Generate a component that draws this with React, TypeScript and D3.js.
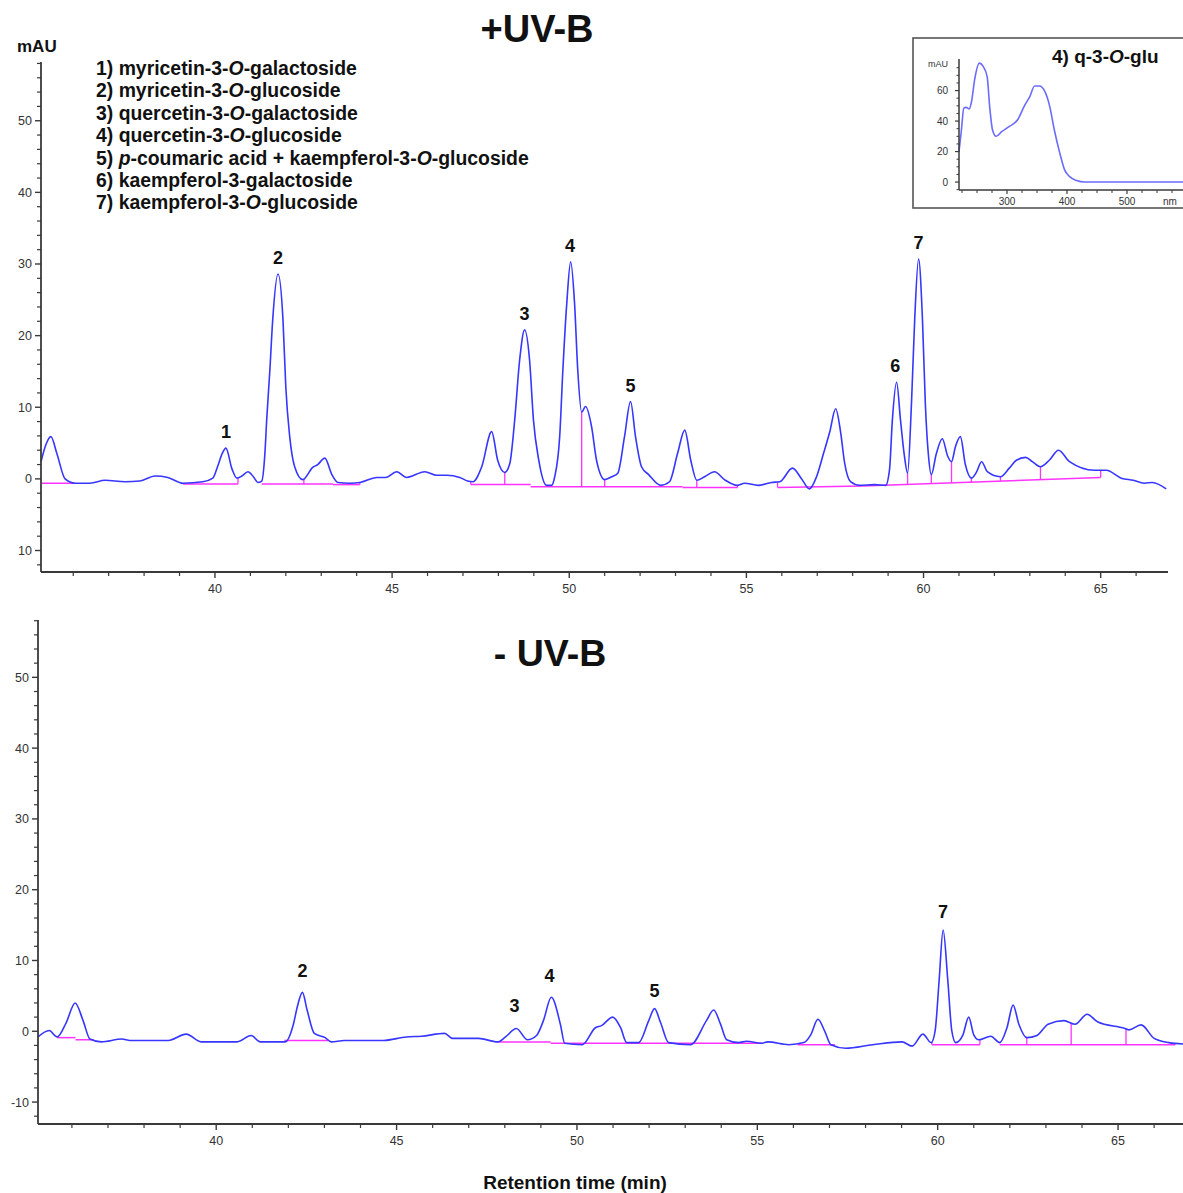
import React from "react";
import * as d3 from "d3";

// ---------- data ----------
const topTrace: [number, number][] = [
  [35.09, 2.4], [35.23, 4.8], [35.37, 5.9], [35.54, 3.5], [35.77, 0.0], [36.05, -0.6], [36.47, -0.6],
  [36.9, -0.2], [37.46, -0.4], [37.88, -0.3], [38.31, 0.4], [38.67, 0.2], [39.1, -0.6], [39.66, -0.4],
  [39.94, 0.1], [40.08, 1.8], [40.2, 3.5], [40.31, 4.3], [40.48, 1.4], [40.62, 0.1], [40.76, 0.4],
  [40.93, 1.0], [41.1, 0.2], [41.21, -0.5], [41.32, -0.3], [41.41, 3.6], [41.46, 8.2], [41.55, 15.2],
  [41.63, 22.2], [41.78, 28.6], [41.92, 22.2], [42.0, 12.8], [42.11, 5.9], [42.25, 1.7], [42.48, -0.1],
  [42.76, 1.6], [42.9, 2.0], [43.1, 2.9], [43.3, 0.6], [43.47, -0.5], [43.81, -0.6], [44.09, -0.5],
  [44.57, 0.2], [44.82, 0.2], [45.13, 1.0], [45.41, 0.2], [45.92, 1.0], [46.26, 0.5], [46.54, 0.5],
  [46.91, 0.2], [47.13, -0.3], [47.28, -0.4], [47.53, 1.7], [47.81, 6.6], [47.98, 2.6], [48.18, 0.9],
  [48.32, 2.1], [48.46, 8.2], [48.6, 16.6], [48.74, 20.8], [48.88, 16.6], [48.99, 8.2], [49.14, 2.6],
  [49.36, -0.9], [49.5, -0.9], [49.59, 0.3], [49.73, 5.9], [49.82, 15.2], [49.93, 24.5], [50.04, 30.3],
  [50.15, 24.5], [50.24, 15.2], [50.35, 9.3], [50.46, 10.1], [50.63, 7.3], [50.77, 2.6], [51.0, -0.1],
  [51.2, 0.3], [51.37, 0.8], [51.56, 5.9], [51.73, 10.8], [51.87, 5.9], [52.04, 1.7], [52.24, 0.6],
  [52.58, -0.9], [52.83, -0.4], [53.06, 3.6], [53.26, 6.8], [53.43, 2.6], [53.6, -0.2], [53.82, 0.3],
  [54.1, 1.0], [54.38, -0.1], [54.75, -0.9], [54.95, -0.6], [55.34, -0.9], [55.71, -0.5], [55.94, -0.4],
  [56.3, 1.5], [56.56, 0.0], [56.78, -1.4], [56.98, 0.3], [57.18, 3.6], [57.35, 6.5], [57.52, 9.8],
  [57.66, 6.5], [57.77, 2.3], [57.94, -0.4], [58.19, -0.9], [58.62, -0.8], [58.93, -0.9], [59.04, 1.3],
  [59.12, 8.2], [59.24, 13.5], [59.35, 8.2], [59.46, 3.2], [59.55, 0.8], [59.66, 10.6], [59.75, 22.2],
  [59.86, 30.7], [59.97, 22.2], [60.05, 10.6], [60.14, 3.2], [60.22, 0.6], [60.36, 3.5], [60.53, 5.6],
  [60.68, 3.2], [60.79, 2.4], [60.9, 4.5], [61.04, 5.9], [61.18, 2.0], [61.35, 0.1], [61.49, 0.9],
  [61.64, 2.4], [61.8, 1.0], [62.17, 0.3], [62.42, 1.5], [62.62, 2.6], [62.88, 3.0], [63.07, 2.4],
  [63.3, 1.7], [63.55, 2.6], [63.81, 4.0], [64.12, 2.4], [64.82, 1.2], [65.16, 1.2], [65.58, 0.1],
  [65.92, -0.2], [66.23, -0.6], [66.46, -0.5], [66.85, -1.4],
];

const bottomTrace: [number, number][] = [
  [35.06, -0.8], [35.37, 0.1], [35.59, -0.8], [35.84, 1.2], [36.09, 4.0], [36.31, 1.5], [36.5, -1.1],
  [36.81, -1.5], [37.39, -1.1], [37.61, -1.3], [38.67, -1.3], [39.17, -0.4], [39.58, -1.5], [40.58, -1.5],
  [40.97, -0.6], [41.22, -1.5], [41.91, -1.5], [42.14, 1.0], [42.25, 3.5], [42.39, 5.5], [42.52, 3.0],
  [42.72, -0.3], [43.02, -0.9], [43.19, -1.5], [43.55, -1.3], [44.63, -1.3], [45.27, -0.8], [45.69, -0.7],
  [46.33, -0.3], [46.55, -1.0], [47.27, -1.0], [47.8, -1.5], [48.02, -0.8], [48.32, 0.4], [48.63, -1.2],
  [48.88, -0.6], [49.07, 1.5], [49.29, 4.8], [49.54, 1.0], [49.66, -1.7], [50.15, -1.9], [50.51, 0.5],
  [50.68, 0.8], [50.99, 2.0], [51.21, 0.5], [51.38, -1.6], [51.71, -1.6], [51.99, 1.5], [52.15, 3.2],
  [52.32, 1.2], [52.54, -1.6], [53.15, -1.9], [53.59, 1.5], [53.79, 3.0], [53.98, 1.0], [54.15, -1.2],
  [54.48, -1.6], [54.7, -1.4], [55.12, -1.7], [55.29, -1.5], [55.87, -1.9], [56.29, -1.6], [56.48, -0.5],
  [56.68, 1.7], [56.87, 0.0], [57.04, -1.9], [57.45, -2.4], [58.2, -1.9], [59.01, -1.5], [59.29, -2.1],
  [59.59, -0.4], [59.82, -1.6], [59.93, 0.1], [60.04, 7.2], [60.15, 14.3], [60.28, 7.2], [60.39, 0.1],
  [60.5, -1.6], [60.7, -0.5], [60.86, 2.0], [61.0, -0.5], [61.14, -1.2], [61.47, -0.7], [61.72, -1.6],
  [61.92, 0.5], [62.09, 3.7], [62.25, 1.0], [62.47, -0.9], [62.75, -0.6], [63.06, 1.0], [63.5, 1.5],
  [63.81, 1.0], [64.14, 2.4], [64.44, 1.3], [65.19, 0.4], [65.3, 0.2], [65.64, 0.9], [66.0, -1.0],
  [66.41, -1.6], [66.83, -1.8],
];

// baseline segments [t1, v1, t2, v2]
const topBaselines: number[][] = [
  [35.09, -0.6, 36.05, -0.6], [39.1, -0.7, 40.65, -0.7], [41.32, -0.7, 43.33, -0.7],
  [43.33, -0.8, 44.09, -0.8], [47.22, -0.8, 48.91, -0.8], [48.91, -1.1, 53.2, -1.1],
  [53.2, -1.2, 54.75, -1.2], [55.88, -1.2, 58.28, -1.0], [58.28, -1.0, 65.0, 0.2],
];
// drop lines [t, vBase, vTop]
const topDrops: number[][] = [
  [40.65, -0.7, 0.1], [42.51, -0.7, 0.0], [44.09, -0.8, -0.5], [47.22, -0.8, -0.4], [48.18, -0.8, 0.9],
  [50.35, -1.1, 9.3], [51.0, -1.1, -0.1], [53.6, -1.2, -0.2], [54.75, -1.2, -0.9], [55.88, -1.2, -0.5],
  [59.55, -0.8, 0.8], [60.22, -0.65, 0.6], [60.79, -0.55, 2.4], [61.35, -0.45, 0.1], [62.17, -0.3, 0.3],
  [63.3, -0.1, 1.7], [65.0, 0.2, 1.2],
];
const bottomBaselines: number[][] = [
  [35.59, -0.9, 36.1, -0.9], [36.1, -1.2, 36.61, -1.2], [41.89, -1.3, 43.11, -1.3],
  [47.8, -1.5, 49.27, -1.5], [49.27, -1.7, 55.12, -1.7], [56.12, -1.9, 57.15, -1.9],
  [59.84, -1.9, 61.17, -1.9], [61.72, -1.9, 66.58, -1.9],
];
const bottomDrops: number[][] = [
  [59.84, -1.9, -1.6], [61.17, -1.9, -1.2], [62.47, -1.9, -0.9], [63.7, -1.9, 1.1], [65.22, -1.9, 0.4],
  [66.58, -1.9, -1.7],
];

const topPeakLabels = [
  { label: "1", t: 40.31, v: 4.3 }, { label: "2", t: 41.78, v: 28.6 }, { label: "3", t: 48.74, v: 20.8 },
  { label: "4", t: 50.02, v: 30.3 }, { label: "5", t: 51.73, v: 10.8 }, { label: "6", t: 59.2, v: 13.5 },
  { label: "7", t: 59.86, v: 30.7 },
];
const bottomPeakLabels = [
  { label: "2", t: 42.39, v: 6.0 }, { label: "3", t: 48.27, v: 1.0 }, { label: "4", t: 49.24, v: 5.3 },
  { label: "5", t: 52.15, v: 3.2 }, { label: "7", t: 60.15, v: 14.3 },
];

// UV spectrum of peak 4 [nm, mAU]
const spectrum: [number, number][] = [
  [220, 20], [224, 34], [228, 48.5], [232, 49], [237, 48], [241, 53], [246, 67], [254, 78], [260, 76],
  [267, 69], [271, 50], [276, 34], [282, 30], [291, 33], [304, 36.5], [318, 41], [329, 50], [338, 56],
  [346, 63], [354, 63], [363, 59.5], [371, 50], [379, 34], [388, 19], [396, 8], [404, 3.7], [416, 1],
  [429, 0], [500, 0], [600, 0],
];

const xMajorTicks = [40, 45, 50, 55, 60, 65];
const xTickLabels = ["40", "45", "50", "55", "60", "65"];
const yMajorTicks = [-10, 0, 10, 20, 30, 40, 50];
const topYTickLabels = ["10", "0", "10", "20", "30", "40", "50"];
const bottomYTickLabels = ["-10", "0", "10", "20", "30", "40", "50"];
const insetXTicks = [300, 400, 500];
const insetXLabels = ["300", "400", "500"];
const insetYTicks = [0, 20, 40, 60];
const insetYLabels = ["0", "20", "40", "60"];

type Seg = { italic?: boolean; text: string };
const legendLines: Seg[][] = [
  [{ text: "1) myricetin-3-" }, { text: "O", italic: true }, { text: "-galactoside" }],
  [{ text: "2) myricetin-3-" }, { text: "O", italic: true }, { text: "-glucoside" }],
  [{ text: "3) quercetin-3-" }, { text: "O", italic: true }, { text: "-galactoside" }],
  [{ text: "4) quercetin-3-" }, { text: "O", italic: true }, { text: "-glucoside" }],
  [{ text: "5) " }, { text: "p", italic: true }, { text: "-coumaric acid + kaempferol-3-" }, { text: "O", italic: true }, { text: "-glucoside" }],
  [{ text: "6) kaempferol-3-galactoside" }],
  [{ text: "7) kaempferol-3-" }, { text: "O", italic: true }, { text: "-glucoside" }],
];

// ---------- styles ----------
const FONT = "Arial, 'Liberation Sans', Helvetica, sans-serif";
const BLUE = "#3636ff";
const MAGENTA = "#ff33ff";
const AXIS = "#3a3a3a";
const TICKTXT = "#333";

type PanelProps = {
  trace: [number, number][];
  baselines: number[][];
  drops: number[][];
  peaks: { label: string; t: number; v: number }[];
  x: d3.ScaleLinear<number, number>;
  y: d3.ScaleLinear<number, number>;
  yLabels: string[];
  labelGap: number;
};

function Panel({ trace, baselines, drops, peaks, x, y, yLabels, labelGap }: PanelProps) {
  const line = d3
    .line<[number, number]>()
    .x((d) => x(d[0]))
    .y((d) => y(d[1]))
    .curve(d3.curveMonotoneX);
  const [x0, x1] = x.range();
  const [yb, yt] = y.range();
  const [tMin, tMax] = x.domain();
  const [vMin, vMax] = y.domain();
  const minorX = d3.range(Math.ceil(tMin), Math.floor(tMax) + 1).filter((t) => !xMajorTicks.includes(t));
  const minorY = d3.range(Math.ceil(vMin / 2) * 2, vMax, 2).filter((v) => v % 10 !== 0);
  return (
    <g>
      {baselines.map((b, i) => (
        <line key={"b" + i} x1={x(b[0])} y1={y(b[1])} x2={x(b[2])} y2={y(b[3])} stroke={MAGENTA} strokeWidth={1.5} />
      ))}
      {drops.map((d, i) => (
        <line key={"d" + i} x1={x(d[0])} y1={y(d[1])} x2={x(d[0])} y2={y(d[2])} stroke={MAGENTA} strokeWidth={1.3} />
      ))}
      <path d={line(trace) || ""} fill="none" stroke={BLUE} strokeWidth={1.6} strokeLinejoin="round" />
      <line x1={x0} y1={yb} x2={x1} y2={yb} stroke={AXIS} strokeWidth={2.2} />
      <line x1={x0} y1={yb} x2={x0} y2={yt} stroke={AXIS} strokeWidth={1.8} />
      {xMajorTicks.map((t, i) => (
        <g key={"xm" + t}>
          <line x1={x(t)} y1={yb} x2={x(t)} y2={yb + 6} stroke={AXIS} strokeWidth={1.4} />
          <text x={x(t)} y={yb + 21} textAnchor="middle" fontSize={12.5} fontFamily={FONT} fill={TICKTXT}>
            {xTickLabels[i]}
          </text>
        </g>
      ))}
      {minorX.map((t) => (
        <line key={"xn" + t} x1={x(t)} y1={yb} x2={x(t)} y2={yb + 4} stroke={AXIS} strokeWidth={1.2} />
      ))}
      {yMajorTicks.map((v, i) => (
        <g key={"ym" + v}>
          <line x1={x0 - 6} y1={y(v)} x2={x0} y2={y(v)} stroke={AXIS} strokeWidth={1.4} />
          <text x={x0 - 9} y={y(v) + 4.5} textAnchor="end" fontSize={12.5} fontFamily={FONT} fill={TICKTXT}>
            {yLabels[i]}
          </text>
        </g>
      ))}
      {minorY.map((v) => (
        <line key={"yn" + v} x1={x0 - 4} y1={y(v)} x2={x0} y2={y(v)} stroke={AXIS} strokeWidth={1.2} />
      ))}
      {peaks.map((p, i) => (
        <text key={"p" + i} x={x(p.t)} y={y(p.v) - labelGap} textAnchor="middle" fontSize={18} fontWeight="bold" fontFamily={FONT} fill="#111">
          {p.label}
        </text>
      ))}
    </g>
  );
}

function Inset() {
  const x = d3.scaleLinear().domain([220, 600]).range([959, 1187]);
  const y = d3.scaleLinear().domain([-5.2, 80.7]).range([190, 59]);
  const line = d3
    .line<[number, number]>()
    .x((d) => x(d[0]))
    .y((d) => y(d[1]))
    .curve(d3.curveMonotoneX);
  const minorX = d3.range(225, 600, 25).filter((t) => t % 100 !== 0);
  const minorY = d3.range(-5, 80, 5).filter((v) => v % 20 !== 0);
  return (
    <g>
      <rect x={913} y={38} width={290} height={170} fill="#fff" stroke="#555" strokeWidth={1.6} />
      <text x={1052} y={63} fontSize={19} fontWeight="bold" fontFamily={FONT} fill="#111">
        4) q-3-<tspan fontStyle="italic">O</tspan>-glu
      </text>
      <path d={line(spectrum) || ""} fill="none" stroke="#6b6bff" strokeWidth={1.6} />
      <line x1={959} y1={190} x2={1190} y2={190} stroke={AXIS} strokeWidth={1.5} />
      <line x1={959} y1={190} x2={959} y2={59} stroke={AXIS} strokeWidth={1.5} />
      {insetXTicks.map((t, i) => (
        <g key={"ix" + t}>
          <line x1={x(t)} y1={190} x2={x(t)} y2={194} stroke={AXIS} strokeWidth={1.2} />
          <text x={x(t)} y={205} textAnchor="middle" fontSize={10} fontFamily={FONT} fill={TICKTXT}>
            {insetXLabels[i]}
          </text>
        </g>
      ))}
      {minorX.map((t) => (
        <line key={"ixn" + t} x1={x(t)} y1={190} x2={x(t)} y2={193} stroke={AXIS} strokeWidth={1} />
      ))}
      <text x={1170} y={205} textAnchor="middle" fontSize={10} fontFamily={FONT} fill={TICKTXT}>nm</text>
      {insetYTicks.map((v, i) => (
        <g key={"iy" + v}>
          <line x1={955} y1={y(v)} x2={959} y2={y(v)} stroke={AXIS} strokeWidth={1.2} />
          <text x={948} y={y(v) + 3.5} textAnchor="end" fontSize={10} fontFamily={FONT} fill={TICKTXT}>
            {insetYLabels[i]}
          </text>
        </g>
      ))}
      {minorY.map((v) => (
        <line key={"iyn" + v} x1={956.5} y1={y(v)} x2={959} y2={y(v)} stroke={AXIS} strokeWidth={1} />
      ))}
      <text x={948} y={67} textAnchor="end" fontSize={9} fontFamily={FONT} fill={TICKTXT}>mAU</text>
    </g>
  );
}

export default function App() {
  const xTop = d3.scaleLinear().domain([35.09, 66.9]).range([41, 1168]);
  const yTop = d3.scaleLinear().domain([-13, 58.2]).range([572, 62]);
  const xBot = d3.scaleLinear().domain([35.06, 66.8]).range([38, 1183]);
  const yBot = d3.scaleLinear().domain([-13.1, 58.1]).range([1124, 620]);
  return (
    <svg width={1183} height={1193} style={{ position: "absolute", left: 0, top: 0, background: "#fff" }}>
      <rect width={1183} height={1193} fill="#fff" />
      <text x={537} y={42} textAnchor="middle" fontSize={38} fontWeight="bold" fontFamily={FONT} fill="#111">+UV-B</text>
      <text x={17} y={52} fontSize={17} fontWeight="bold" fontFamily={FONT} fill="#111">mAU</text>
      {legendLines.map((segs, i) => (
        <text key={"l" + i} x={96} y={75 + i * 22.4} fontSize={19.4} fontWeight="bold" fontFamily={FONT} fill="#111">
          {segs.map((s, j) => (
            <tspan key={j} fontStyle={s.italic ? "italic" : "normal"}>{s.text}</tspan>
          ))}
        </text>
      ))}
      <Panel trace={topTrace} baselines={topBaselines} drops={topDrops} peaks={topPeakLabels} x={xTop} y={yTop} yLabels={topYTickLabels} labelGap={10} />
      <Inset />
      <text x={550} y={666} textAnchor="middle" fontSize={37.5} fontWeight="bold" fontFamily={FONT} fill="#111">- UV-B</text>
      <Panel trace={bottomTrace} baselines={bottomBaselines} drops={bottomDrops} peaks={bottomPeakLabels} x={xBot} y={yBot} yLabels={bottomYTickLabels} labelGap={12} />
      <text x={575} y={1189} textAnchor="middle" fontSize={19} fontWeight="bold" fontFamily={FONT} fill="#111">Retention time (min)</text>
    </svg>
  );
}
